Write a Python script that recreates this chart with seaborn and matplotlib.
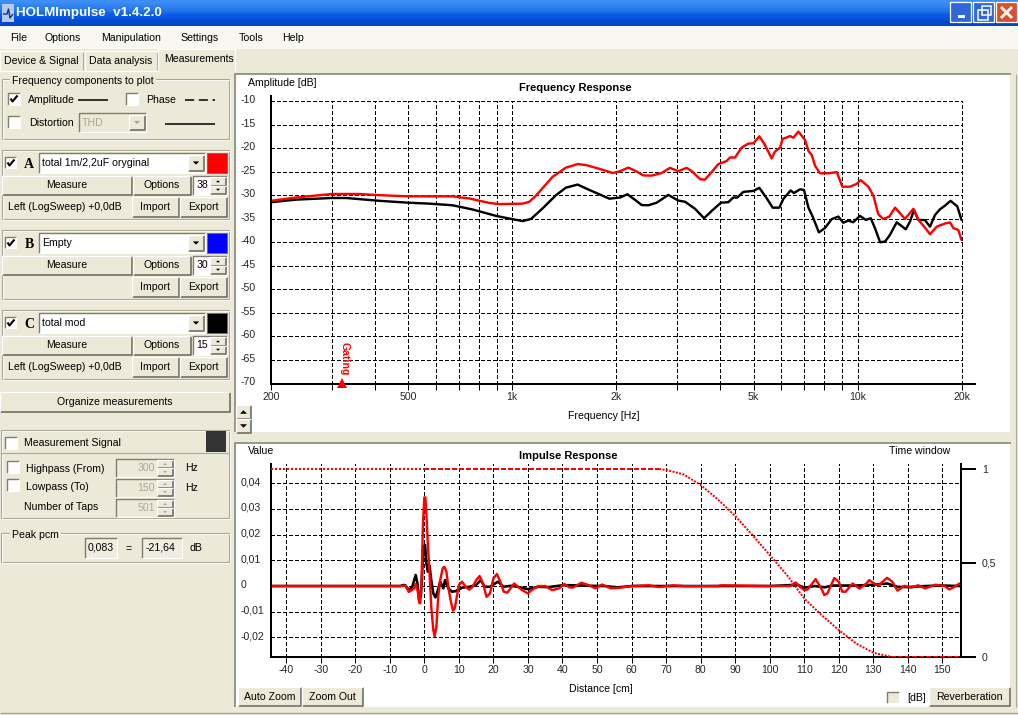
import numpy as np
import matplotlib
matplotlib.use("Agg")
import matplotlib.pyplot as plt
from matplotlib.patches import Rectangle, Polygon
from matplotlib.transforms import ScaledTranslation
import seaborn as sns

# ---------- data ----------
freq_red = [200,236,300,360,412,500,672,750,857,916,1072,1120,1171,1308,1430,1546,1634,1786,1954,2051,2168,2267,2396,2532,2706,2861,3026,3198,3308,3497,3614,3738,3951,4176,4271,4416,4616,4826,4989,5194,5392,5638,5763,5961,6068,6374,6517,6738,7047,7205,7367,7532,7785,8233,8706,9036,9507,9942,10210,10750,11110,11480,11870,12360,12840,13720,14510,15000,15680,16210,16950,17930,18530,18950,19580,20000]
db_red = [-31.2,-30.5,-29.75,-29.75,-30,-30.25,-30.25,-30.7,-31.65,-31.9,-31.8,-31.4,-30.1,-26.1,-24.15,-23.4,-23.6,-24.4,-25.3,-24.9,-24.15,-24.8,-25.8,-25.85,-25.3,-24.2,-24.9,-24.2,-24.9,-26.6,-26.7,-25.5,-23.4,-22.75,-22,-22,-19.9,-19.05,-19,-17.5,-19.35,-22.2,-20.75,-19.9,-18.05,-17.45,-17.8,-16.5,-18.3,-20.6,-21.5,-23.75,-25.35,-25.35,-25.1,-28.2,-28.2,-27.6,-26.8,-28.2,-30.1,-34.05,-35.05,-34.55,-32.65,-35.05,-32.9,-35.25,-36.9,-38.3,-36.7,-36,-35.8,-37,-37.4,-39.5]
freq_black = [200,236,300,330,412,500,575,672,768,897,1000,1072,1133,1224,1338,1430,1546,1672,1786,1910,2051,2154,2267,2369,2478,2618,2830,3026,3165,3383,3592,3780,4021,4222,4366,4484,4668,4989,5194,5454,5676,5935,6095,6400,6545,6814,6997,7205,7410,7727,8040,8412,8797,9093,9399,9718,10160,10570,10920,11230,11620,12010,12410,12980,13790,14190,14570,15000,15680,16210,16760,17330,17930,18600,19450,20000]
db_black = [-31.5,-30.95,-30.6,-30.6,-31.2,-31.6,-31.8,-32.15,-33.05,-34.4,-35.1,-35.5,-35.05,-32.8,-30,-28.4,-27.75,-28.9,-29.8,-30.75,-30.5,-29.8,-31,-32.1,-32.15,-31.6,-29.95,-31.15,-31.4,-32.9,-34.9,-33.35,-31.6,-31.5,-30.5,-30.5,-29.3,-29.1,-28.45,-30.65,-32.65,-32.65,-30.8,-29,-29.55,-28.75,-28.9,-32.65,-34.55,-37.9,-37,-35.1,-34.55,-35.85,-35.4,-35.75,-34.4,-35.25,-34.9,-37,-40,-39.85,-38.45,-35.75,-37.25,-35.6,-33.15,-35.25,-35.3,-36.7,-34.2,-33,-32.2,-31.2,-32.4,-35.25]

dist_red = [-44.4,-7,-6.5,-5.5,-4.5,-3,-2.5,-1.9,-1.5,-1.2,-0.8,-0.4,0,0.3,0.6,1,1.5,2,2.6,3,3.5,4,4.6,5.3,5.8,6.4,7,7.6,8.3,8.8,9.4,10,10.9,12,13,14,15,16,17,18,19,20,21,22,23,24,26,28,30,31,33,35,37,39,40.5,42,43,45.5,47.5,49.5,51.5,54,57,60,65,68,72,76,85,86,100,106,107.5,108.8,110,111,113.3,115.2,115.8,116.7,118.7,120,121,122,124,126,128,128.8,130.5,131.5,134,135.5,137,139,141,143,145,148,150.5,152,153.5,155]
val_red = [0,0,0,0.0002,-0.0023,-0.001,0.0008,-0.002,-0.0065,-0.0067,0.002,0.024,0.0345,0.0345,0.0277,0.0166,0.005,-0.008,-0.0171,-0.0195,-0.0158,-0.0042,0.0023,0.0069,0.0075,0.0056,-0.001,-0.0055,-0.0096,-0.0087,-0.0042,0.0004,0.0017,-0.0003,-0.0014,-0.0003,0.0023,0.0039,0.001,-0.0042,-0.0029,0.003,0.0047,0.0017,-0.0022,-0.0026,0.001,-0.0013,-0.0029,-0.0016,0,0,-0.0016,-0.0009,0.0008,-0.0005,-0.0006,0.0013,0.0004,-0.0009,0.0006,-0.0009,-0.0006,0,0.0003,-0.0004,0.0003,-0.0001,0,0.0003,0,0,0.0014,-0.0003,-0.0016,-0.0013,0.0027,-0.0016,-0.0035,-0.0029,0.0031,0.0017,-0.0022,-0.0022,0.001,-0.001,0.001,0.0023,0.0008,0.0003,0.0032,0.0017,-0.0018,0.0001,-0.0006,0.0003,-0.0009,0.0005,0.0001,-0.0013,-0.0003,0.001]
dist_black = [-44.4,-7,-6,-5.5,-4.5,-3.5,-2.5,-2,-1.5,-1,-0.7,-0.3,0.2,0.6,1,1.5,2,2.6,3.2,3.8,4.6,5.5,6,7,8,9,11,13,15,16.3,17.5,19,21.3,23,25,27,30,33,36,40,44,48,52,56,60,100,108,110,113,116,118,125,130,134,137,140,145,150,155]
val_black = [0,0,0.0004,0.0003,-0.0016,-0.0003,0.0043,0.001,-0.0055,-0.004,0.003,0.0153,0.016,0.0088,0.0056,0.008,0.0023,-0.0029,-0.0044,-0.0022,0.0017,-0.0009,0.0023,-0.0009,-0.0022,-0.002,-0.0006,-0.0003,0.0004,0.0023,-0.0003,-0.0003,0.0017,-0.0003,0.0001,-0.0003,-0.0012,-0.0003,-0.0004,0.0003,0.0003,0.0001,0,-0.0005,0,0,0.0005,-0.0006,0,-0.0005,0.0002,0.0002,0.0005,0.001,-0.0003,-0.0004,0,0.0002,0]
win_dist = [-44.4,0,68,70,75,80,85,90,95,100,105,110,115,120,125,130,135,155.4]
win_val = [1,1,1,0.995,0.972,0.915,0.838,0.75,0.648,0.542,0.435,0.31,0.222,0.142,0.071,0.021,0,0]

freq_ticks = [200,500,1000,2000,5000,10000,20000]
freq_labels = ["200","500","1k","2k","5k","10k","20k"]
freq_minor = [300,400,600,700,800,900,3000,4000,6000,7000,8000,9000]
db_ticks = list(range(-70,-5,5))
dist_ticks = list(range(-40,160,10))
val_ticks = [-0.02,-0.01,0,0.01,0.02,0.03,0.04]
val_labels = ["-0,02","-0,01","0","0,01","0,02","0,03","0,04"]
win_ticks = [0,0.5,1]
win_labels = ["0","0,5","1"]
gating_freq = 322

RED = "#FF0000"; BK = "#000000"; FACE = "#ECE9D8"; DARK = "#716F64"; LINE = "#ACA899"

# ---------- set-up ----------
sns.set_theme(style="white")
FONT = ["Liberation Sans", "DejaVu Sans"]
plt.rcParams["font.family"] = FONT
FS = 7.55
BOLD = 8.0
plt.rcParams["font.size"] = FS
plt.rcParams["text.color"] = "black"
W, H = 1018, 715
fig = plt.figure(figsize=(W/100, H/100), dpi=100, facecolor=FACE)

ui = fig.add_axes([0, 0, 1, 1], zorder=0)
ui.set_axis_off()

def rect(x0, y0, x1, y1, fc=FACE, ec="none", lw=0.72, z=1):
    ui.add_patch(Rectangle((x0, y0), x1-x0, y1-y0, fc=fc, ec=ec, lw=lw, zorder=z))
def seg(xs, ys, c=DARK, lw=0.72, z=2, **kw):
    ui.plot(xs, ys, color=c, lw=lw, zorder=z, solid_capstyle="butt", **kw)
def txt(x, y, s, ha="left", size=FS, c="black", **kw):
    ui.text(x, y, s, ha=ha, va="center", fontsize=size, color=c, zorder=5, **kw)
def button(x0, y0, x1, y1, label=None, size=FS):
    rect(x0, y0, x1, y1, FACE)
    seg([x0, x1, x1], [y1, y1, y0], DARK, 1.2)
    seg([x0, x0, x1], [y1, y0, y0], "white", 0.9)
    if label:
        txt((x0+x1)/2, (y0+y1)/2, label, ha="center", size=size)
def field(x0, y0, x1, y1, fc="white"):
    rect(x0, y0, x1, y1, fc)
    seg([x0, x0, x1], [y1, y0, y0], "#807D70", 1.0)
    seg([x0, x1, x1], [y1, y1, y0], "white", 0.8)
def check(x, y, on=False, s=12):
    field(x, y, x+s, y+s, "white")
    if on:
        seg([x+2.5, x+4.5, x+9.5], [y+5.5, y+8.5, y+2.5], "black", 1.5, z=4)
def tri(cx, cy, s, up=True, c="black"):
    d = -s if up else s
    ui.add_patch(Polygon([(cx-s, cy-d/2), (cx+s, cy-d/2), (cx, cy+d/2)], fc=c, ec="none", zorder=5))
def group(x0, y0, x1, y1, label=None, lx=None):
    rect(x0, y0, x1, y1, FACE, ec=LINE, lw=0.8)
    seg([x0+1, x0+1, x1+1, x1+1, x0+1], [y1+1, y0+1, y0+1, y1+1, y1+1], "white", 0.5, z=1)
    if label:
        ui.text(lx, y0+2, label, ha="left", va="center", fontsize=FS, zorder=5,
                bbox=dict(fc=FACE, ec="none", pad=1.5))
def spin(x0, y0, x1, y1, value, enabled=True):
    field(x0, y0, x1, y1, "white" if enabled else FACE)
    txt(x1-19, (y0+y1)/2, value, ha="right", c="black" if enabled else "#ACA899")
    mid = (y0+y1)/2
    button(x1-17, y0+1, x1-1, mid)
    button(x1-17, mid, x1-1, y1-1)
    col = "black" if enabled else "#ACA899"
    tri(x1-9, (y0+mid)/2+0.5, 2, True, col)
    tri(x1-9, (mid+y1)/2-0.5, 2, False, col)
def combo(x0, y0, x1, y1, label, fc="white", tc="black"):
    field(x0, y0, x1, y1, fc)
    txt(x0+3, (y0+y1)/2, label, c=tc)
    button(x1-17, y0+2, x1-1, y1-2)
    tri(x1-9, (y0+y1)/2, 3.2, False, "black" if fc == "white" else "#ACA899")

# ---------- window chrome ----------
rect(0, 0, W, H, FACE, z=0)
grad = np.array([0.0, 0.07, 0.14, 0.2, 0.5, 0.75, 0.92, 1.0])[:, None]
ui.imshow(grad, extent=(0, W, 26, 0), aspect="auto",
          cmap=matplotlib.colors.LinearSegmentedColormap.from_list(
              "t", ["#3E8FF5", "#1C6CEB", "#0A5CE6", "#0556E0", "#0046C8"]),
          zorder=1, interpolation="bilinear")
ui.set_xlim(0, W); ui.set_ylim(H, 0)
rect(2, 4, 14, 22, "#B8C8E8", z=2)
seg([3, 7, 8.5, 10, 13], [14, 14, 9, 18, 14], "#10308A", 1.0, z=3)
txt(16, 13, "HOLMImpulse  v1.4.2.0", c="white", size=9.6, fontweight="bold")
for x0, base in [(950, "#2F66DA"), (973, "#2F66DA"), (996, "#D8502C")]:
    rect(x0, 2, x0+21, 22, base, ec="white", lw=0.9, z=3)
rect(958, 15, 965, 17.5, "white", z=4)
rect(978, 10, 988, 20, "none", ec="white", lw=1.1, z=4)
rect(982, 6, 991, 15, "none", ec="white", lw=1.1, z=4)
seg([1001, 1012], [7, 18], "white", 2.0, z=4); seg([1001, 1012], [18, 7], "white", 2.0, z=4)

rect(0, 26, W, 49, "#F8F7F1", z=1)
for x, s in [(10, "File"), (45, "Options"), (101, "Manipulation"), (180, "Settings"), (239, "Tools"), (282, "Help")]:
    txt(x, 38, s)

# tabs
for x0, x1, s in [(0, 83, "Device & Signal"), (85, 157, "Data analysis")]:
    seg([x0, x0, x1, x1], [70, 51, 51, 70], "white", 0.9)
    seg([x1, x1], [52, 70], LINE, 0.8)
    txt((x0+x1)/2, 61, s, ha="center")
seg([158, 158, 235, 235], [71, 49, 49, 71], "white", 0.9)
txt(199, 59, "Measurements", ha="center")
seg([0, 158], [70.5, 70.5], "white", 0.9)

# frequency group
group(2, 79, 229, 139, "Frequency components to plot", 12)
check(8, 93, True); txt(28, 100, "Amplitude")
seg([78, 108], [100, 100], "black", 1.1)
check(126, 93); txt(146, 100, "Phase")
seg([185, 215], [100, 100], "black", 1.1, linestyle=(0, (6, 3)))
check(8, 116); txt(29, 123, "Distortion")
combo(79, 113, 146, 132, "THD", FACE, "#ACA899")
seg([165, 215], [124, 124], "black", 1.1)

# measurement blocks
for off, letter, name, colour, num, src in [
        (0, "A", "total 1m/2,2uF oryginal", "#FF0000", "38", True),
        (80, "B", "Empty", "#0000FF", "30", False),
        (160, "C", "total mod", "#000000", "15", True)]:
    group(2, 150+off, 229, 219+off)
    check(5, 157+off, True, 11)
    txt(29, 164+off, letter, ha="center", size=10, fontweight="bold", family="Liberation Serif")
    combo(39, 153+off, 205, 173+off, name)
    rect(207, 153+off, 227, 173+off, colour, ec=DARK, lw=0.7)
    button(2, 176+off, 132, 195+off, "Measure")
    button(133, 176+off, 191, 195+off, "Options")
    spin(193, 176+off, 227, 195+off, num)
    if src:
        txt(8, 207+off, "Left (LogSweep) +0,0dB")
    button(132, 197+off, 179, 217+off, "Import")
    button(180, 197+off, 227, 217+off, "Export")

button(0, 392, 230, 412, "Organize measurements")

# measurement signal
group(1, 430, 229, 518)
seg([1, 229], [453, 453], LINE, 0.8)
check(5, 437); txt(24, 443, "Measurement Signal")
rect(206, 431, 226, 452, "#333333", z=3)
check(7, 461); txt(26, 469, "Highpass (From)")
spin(116, 459, 174, 477, "300", False); txt(185, 468, "Hz")
check(7, 479); txt(26, 487, "Lowpass (To)")
spin(116, 479, 174, 497, "150", False); txt(185, 488, "Hz")
txt(24, 507, "Number of Taps")
spin(116, 499, 174, 517, "501", False)

# peak
group(1, 533, 229, 562, "Peak pcm", 12)
field(85, 538, 117, 558, "#F0EDE0"); txt(88, 548, "0,083")
txt(129, 549, "=", ha="center")
field(142, 538, 182, 558, "#F0EDE0"); txt(146, 548, "-21,64")
txt(190, 548, "dB")

# chart panels
for y0, y1 in [(74, 432), (443, 707)]:
    rect(236, y0, 1010.5, y1, "white", z=1)
    seg([235.5, 235.5, 1011], [y1, y0, y0], "#807D70", 1.1, z=2)
seg([1015.7, 1015.7], [74, 707], LINE, 0.8)
seg([0, W], [713, 713], LINE, 1.0)

txt(248, 83, "Amplitude [dB]")
txt(575, 88, "Frequency Response", ha="center", fontweight="bold", size=BOLD)
txt(604, 416, "Frequency [Hz]", ha="center")
button(236, 405, 251, 419); tri(243.5, 412, 3.5, True)
button(236, 419, 251, 433); tri(243.5, 426, 3.5, False)

txt(248, 451, "Value")
txt(568, 456, "Impulse Response", ha="center", fontweight="bold", size=BOLD)
txt(889, 451, "Time window")
txt(601, 689, "Distance [cm]", ha="center")
button(238, 687, 301, 706, "Auto Zoom")
button(302, 687, 363, 706, "Zoom Out")
field(887, 692, 899, 703, FACE)
txt(907, 698, "[dB]")
button(929, 687, 1010, 706, "Reverberation")

# ---------- chart helpers ----------
def px_axes(l, t, r, b, z):
    a = fig.add_axes([l/W, 1-b/H, (r-l)/W, (b-t)/H], zorder=z)
    a.patch.set_visible(False)
    return a

GRID = dict(color="black", lw=0.72, linestyle=(0, (4, 2.2)))
offset_up = ScaledTranslation(0, 2/100, fig.dpi_scale_trans)
px = 0.72  # one pixel in points
CURVE = 2.4*px

def style_common(a):
    a.grid(True, which="both", **GRID)
    a.set_axisbelow(True)
    for sp in ("top", "right"):
        a.spines[sp].set_visible(False)
    for sp in ("left", "bottom"):
        a.spines[sp].set_linewidth(2*px)
        a.spines[sp].set_color("black")
    a.tick_params(axis="y", which="both", length=0, pad=30*px, labelsize=FS)
    a.tick_params(axis="x", which="both", length=6*px, width=px, pad=2*px, color="black", labelsize=FS, bottom=True)
    a.set_xlabel(""); a.set_ylabel("")
    for lab in a.get_yticklabels():
        lab.set_ha("left")
        lab.set_transform(lab.get_transform() + offset_up)
    for t in a.xaxis.get_major_ticks() + a.xaxis.get_minor_ticks() + a.yaxis.get_major_ticks():
        t.gridline.set_clip_on(False)
        t.gridline.set_antialiased(False)

# ---------- frequency response ----------
ax = px_axes(271, 101, 961.5, 383.5, 2)
sns.lineplot(x=freq_black, y=db_black, color=BK, linewidth=CURVE, estimator=None, sort=False, ax=ax)
sns.lineplot(x=freq_red, y=db_red, color=RED, linewidth=CURVE, estimator=None, sort=False, ax=ax)
ax.set_xscale("log")
ax.set_xlim(200, 20000); ax.set_ylim(-70, -10)
ax.set_xticks(freq_ticks, freq_labels)
ax.set_xticks(freq_minor, [""]*len(freq_minor), minor=True)
ax.set_yticks(db_ticks, [str(v) for v in db_ticks])
style_common(ax)
ax.spines["left"].set_bounds(-70, -8.9)
ax.spines["bottom"].set_bounds(200, 21900)
ax.plot([gating_freq], [-70], marker="^", ms=7, color=RED, clip_on=False, zorder=6, ls="none", mew=0)
ax.annotate("Gating", (gating_freq, -70), xytext=(2.5, 8), textcoords="offset pixels", rotation=270,
            color=RED, fontsize=FS, fontweight="bold", ha="center", va="bottom", annotation_clip=False, zorder=6)

# ---------- impulse response ----------
ax_i = px_axes(271, 464, 961, 656.7, 2)
sns.lineplot(x=dist_black, y=val_black, color=BK, linewidth=2.6*px, estimator=None, sort=False, ax=ax_i)
sns.lineplot(x=dist_red, y=val_red, color=RED, linewidth=CURVE, estimator=None, sort=False, ax=ax_i)
ax_i.set_xlim(-44.4, 155.4); ax_i.set_ylim(-0.0275, 0.0475)
ax_i.set_xticks(dist_ticks, [str(v) for v in dist_ticks])
ax_i.set_yticks(val_ticks, val_labels)
style_common(ax_i)

ax_w = ax_i.twinx()
ax_w.set_zorder(3); ax_w.patch.set_visible(False)
wx = np.array(win_dist); wy = np.array(win_val)
parts = [(wx <= 0, (1, 1)), ((wx >= 0) & (wx <= 68), (2.5, 1)),
         ((wx >= 68) & (wx <= 135), (1, 0.7)), (wx >= 135, (2.5, 1))]
for mask, dash in parts:
    sns.lineplot(x=wx[mask], y=wy[mask], color=RED, linewidth=2*px, estimator=None, sort=False,
                 ax=ax_w, linestyle=(0, dash))
ax_w.set_ylim(0, (656.7-464)/(656.7-469))
ax_w.set_yticks(win_ticks, win_labels)
ax_w.set_ylabel("")
ax_w.grid(False)
for sp in ("top", "left", "bottom"):
    ax_w.spines[sp].set_visible(False)
ax_w.spines["right"].set_linewidth(2*px); ax_w.spines["right"].set_color("black")
ax_w.tick_params(axis="y", which="major", right=True, direction="out", length=15*px, width=2*px, pad=6*px, color="black", labelsize=FS)
ax_w.set_yticks(win_ticks, minor=True)
ax_w.tick_params(axis="y", which="minor", right=True, direction="in", length=5*px, width=2*px, color="black")

fig.savefig("out.png", dpi=100, facecolor=FACE)
